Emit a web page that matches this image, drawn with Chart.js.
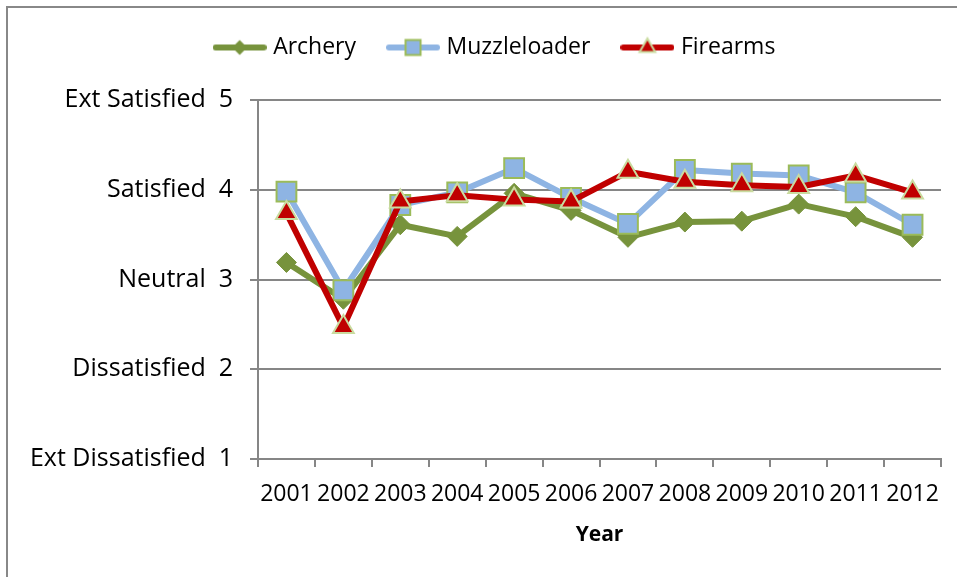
<!DOCTYPE html>
<html>
<head>
<meta charset="utf-8">
<script src="https://cdn.jsdelivr.net/npm/chart.js"></script>
<style>
  html, body { margin: 0; padding: 0; background: #fff; }
  #wrap { position: relative; width: 957px; height: 577px; overflow: hidden; }
  #frame { position: absolute; left: 6px; top: 6px; width: 1000px; height: 1000px;
           border-left: 2px solid #888; border-top: 2px solid #888; }
  #chart { position: absolute; left: 0; top: 0; }
</style>
</head>
<body>
<div id="wrap">
  <div id="frame"></div>
  <canvas id="chart" width="957" height="577"></canvas>
</div>
<script>
// valeurs (échelle 1..5)
const years = ['2001', '2002', '2003', '2004', '2005', '2006', '2007', '2008', '2009', '2010', '2011', '2012'];
const archery = [3.19, 2.78, 3.61, 3.48, 3.96, 3.77, 3.47, 3.64, 3.65, 3.84, 3.70, 3.47];
const muzzleloader = [3.98, 2.88, 3.83, 3.97, 4.24, 3.91, 3.62, 4.22, 4.18, 4.16, 3.97, 3.61];
const firearms = [3.74, 2.47, 3.87, 3.94, 3.89, 3.87, 4.20, 4.09, 4.05, 4.03, 4.16, 3.97];
const levelNames = ['Ext Dissatisfied', 'Dissatisfied', 'Neutral', 'Satisfied', 'Ext Satisfied'];

const FONT = '"Open Sans", "Noto Sans", sans-serif';
const GRID = '#868686';
const GREEN = '#77933C';
const BLUE = '#8EB4E3';
const RED = '#C00000';
const EDGE = '#9BBB59';
const PALE = '#C9DB9F';

Chart.defaults.font.family = FONT;
Chart.defaults.color = '#000';

// petite icône de légende : trait + marqueur
function legendIcon(lineColor, drawMarker) {
  const c = document.createElement('canvas');
  c.width = 54;
  c.height = 24;
  const g = c.getContext('2d');
  g.strokeStyle = lineColor;
  g.lineWidth = 6;
  g.lineCap = 'round';
  g.beginPath();
  g.moveTo(3, 12);
  g.lineTo(51, 12);
  g.stroke();
  drawMarker(g, 27, 12);
  return c;
}

const icons = [
  legendIcon(GREEN, (g, x, y) => {
    const r = 7.5;
    g.fillStyle = GREEN;
    g.beginPath();
    g.moveTo(x, y - r); g.lineTo(x + r, y); g.lineTo(x, y + r); g.lineTo(x - r, y);
    g.closePath();
    g.fill();
  }),
  legendIcon(BLUE, (g, x, y) => {
    const s = 7.5;
    g.fillStyle = BLUE;
    g.strokeStyle = EDGE;
    g.lineWidth = 2;
    g.fillRect(x - s, y - s, 2 * s, 2 * s);
    g.strokeRect(x - s, y - s, 2 * s, 2 * s);
  }),
  legendIcon(RED, (g, x, y) => {
    const r = 9;
    g.fillStyle = RED;
    g.strokeStyle = PALE;
    g.lineWidth = 2;
    g.beginPath();
    g.moveTo(x, y - r);
    g.lineTo(x + r * 0.866, y + r / 2);
    g.lineTo(x - r * 0.866, y + r / 2);
    g.closePath();
    g.fill();
    g.stroke();
  }),
];

new Chart(document.getElementById('chart'), {
  type: 'line',
  data: {
    labels: years,
    datasets: [
      {
        label: 'Archery',
        data: archery,
        borderColor: GREEN,
        backgroundColor: GREEN,
        borderWidth: 6,
        pointStyle: 'rectRot',
        pointRadius: 10,
        pointBorderColor: GREEN,
        pointBorderWidth: 1,
        order: 3,
      },
      {
        label: 'Muzzleloader',
        data: muzzleloader,
        borderColor: BLUE,
        backgroundColor: BLUE,
        borderWidth: 6,
        pointStyle: 'rect',
        pointRadius: 14,
        pointBorderColor: EDGE,
        pointBorderWidth: 2,
        order: 2,
      },
      {
        label: 'Firearms',
        data: firearms,
        borderColor: RED,
        backgroundColor: RED,
        borderWidth: 6,
        pointStyle: 'triangle',
        pointRadius: 12,
        pointBorderColor: PALE,
        pointBorderWidth: 2,
        order: 1,
      },
    ],
  },
  options: {
    responsive: false,
    devicePixelRatio: 1,
    animation: false,
    elements: {
      line: { tension: 0, borderJoinStyle: 'round', borderCapStyle: 'round' },
    },
    layout: { padding: { left: 50, right: 14, top: 1, bottom: 0 } },
    plugins: {
      tooltip: { enabled: false },
      legend: {
        position: 'top',
        labels: {
          usePointStyle: true,
          pointStyleWidth: 44,
          padding: 35,
          color: '#000',
          font: { size: 23 },
          generateLabels: (chart) => chart.data.datasets.map((ds, i) => ({
            text: ds.label,
            pointStyle: icons[i],
            fillStyle: 'transparent',
            strokeStyle: 'transparent',
            lineWidth: 0,
            hidden: false,
            datasetIndex: i,
            fontColor: '#000',
          })),
        },
      },
      // espace vide entre légende et zone de tracé
      title: {
        display: true,
        text: '',
        weight: 500,
        font: { size: 10, lineHeight: 1 },
        padding: { top: 11, bottom: 10 },
      },
    },
    scales: {
      x: {
        offset: true,
        grid: {
          offset: true,
          drawOnChartArea: false,
          drawTicks: true,
          tickLength: 8,
          color: GRID,
          lineWidth: 2,
        },
        border: { color: GRID, width: 2 },
        ticks: {
          color: '#000',
          font: { size: 23 },
          padding: 14,
          autoSkip: false,
          maxRotation: 0,
          minRotation: 0,
        },
        title: {
          display: true,
          text: 'Year',
          color: '#000',
          font: { size: 21, weight: 'bold' },
          padding: { top: 0, bottom: 29 },
        },
        afterFit: (s) => { s.height = 118; },
      },
      y: {
        min: 1,
        max: 5,
        grid: { color: GRID, lineWidth: 2, tickLength: 8 },
        border: { color: GRID, width: 2 },
        ticks: {
          stepSize: 1,
          color: '#000',
          font: { size: 25 },
          padding: 17,
          callback: (v) => levelNames[v - 1] + '  ' + v,
        },
        afterFit: (s) => {
          s.width = 208;
          // les libellés longs débordent à gauche de l'axe : pas de découpe
          s._computeLabelArea = () => undefined;
        },
      },
    },
  },
});
</script>
</body>
</html>
